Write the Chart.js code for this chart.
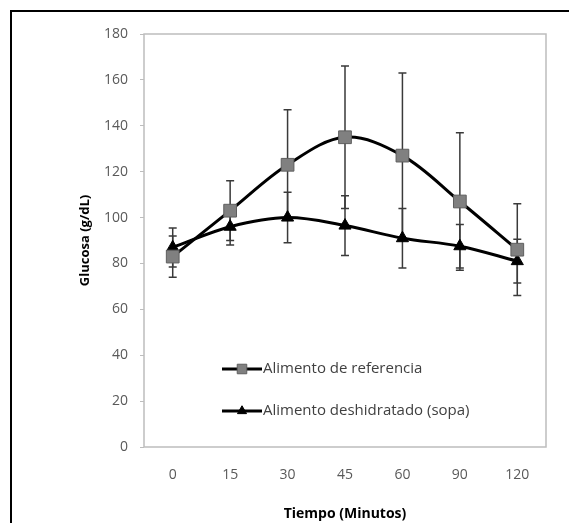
<!DOCTYPE html>
<html>
<head>
<meta charset="utf-8">
<script src="https://cdn.jsdelivr.net/npm/chart.js@4/dist/chart.umd.min.js"></script>
<style>
  html, body { margin: 0; padding: 0; background: #fff; overflow: hidden; }
  #wrap { width: 569px; height: 523px; position: relative; }
</style>
</head>
<body>
<div id="wrap"><canvas id="glucosa" width="569" height="523"></canvas></div>
<script>
// Datos
const tiempos = ['0', '15', '30', '45', '60', '90', '120'];
const referencia = [83, 103, 123, 135, 127, 107, 86];
const referenciaError = [9, 13, 24, 31, 36, 30, 20];
const sopa = [87, 96, 100, 96.5, 91, 87.5, 81];
const sopaError = [8.5, 8, 11, 13, 13, 9.5, 9.5];
const yTicks = [0, 20, 40, 60, 80, 100, 120, 140, 160, 180];

const FONT = '"Open Sans", Lato, sans-serif';

// Marco exterior y borde del area de trazado
const framePlugin = {
  id: 'frame',
  beforeDraw(chart) {
    const ctx = chart.ctx;
    const a = chart.chartArea;
    ctx.save();
    ctx.strokeStyle = '#000';
    ctx.lineWidth = 2;
    ctx.beginPath();
    ctx.moveTo(11, chart.height + 5);
    ctx.lineTo(11, 11);
    ctx.lineTo(chart.width + 5, 11);
    ctx.stroke();
    ctx.strokeStyle = '#bdbdbd';
    ctx.lineWidth = 1.5;
    ctx.strokeRect(a.left, a.top, a.right - a.left, a.bottom - a.top);
    ctx.restore();
  }
};

// Barras de error (se dibujan debajo de las lineas)
const errorBarPlugin = {
  id: 'errorBars',
  beforeDatasetsDraw(chart) {
    const ctx = chart.ctx;
    const y = chart.scales.y;
    ctx.save();
    ctx.strokeStyle = '#3a3a3a';
    ctx.lineWidth = 1.5;
    chart.data.datasets.forEach(function (ds, i) {
      const meta = chart.getDatasetMeta(i);
      meta.data.forEach(function (pt, j) {
        const v = ds.data[j];
        const e = ds.errors[j];
        const top = y.getPixelForValue(v + e);
        const bot = y.getPixelForValue(v - e);
        ctx.beginPath();
        ctx.moveTo(pt.x, top);
        ctx.lineTo(pt.x, bot);
        ctx.moveTo(pt.x - 4, top);
        ctx.lineTo(pt.x + 4, top);
        ctx.moveTo(pt.x - 4, bot);
        ctx.lineTo(pt.x + 4, bot);
        ctx.stroke();
      });
    });
    ctx.restore();
  }
};

// Leyenda dentro del area de trazado
const legendPlugin = {
  id: 'insideLegend',
  afterDatasetsDraw(chart) {
    const ctx = chart.ctx;
    const a = chart.chartArea;
    ctx.save();
    chart.data.datasets.forEach(function (ds, i) {
      const x0 = a.left + 78;
      const yy = a.top + 335 + i * 42;
      ctx.strokeStyle = ds.borderColor;
      ctx.lineWidth = 3;
      ctx.beginPath();
      ctx.moveTo(x0, yy);
      ctx.lineTo(x0 + 40, yy);
      ctx.stroke();
      ctx.fillStyle = ds.pointBackgroundColor;
      ctx.strokeStyle = ds.pointBorderColor;
      ctx.lineWidth = 1;
      ctx.beginPath();
      if (ds.pointStyle === 'rect') {
        const s = ds.pointRadius * 0.75 * Math.SQRT1_2;
        ctx.rect(x0 + 20 - s, yy - s, 2 * s, 2 * s);
      } else {
        const r = ds.pointRadius * 0.75;
        ctx.moveTo(x0 + 20, yy - r);
        ctx.lineTo(x0 + 20 + r * 0.866, yy + r * 0.5);
        ctx.lineTo(x0 + 20 - r * 0.866, yy + r * 0.5);
        ctx.closePath();
      }
      ctx.fill();
      ctx.stroke();
      ctx.fillStyle = '#404040';
      ctx.font = '15px ' + FONT;
      ctx.textBaseline = 'middle';
      ctx.fillText(ds.label, x0 + 41, yy);
    });
    ctx.restore();
  }
};

const ctx = document.getElementById('glucosa').getContext('2d');
new Chart(ctx, {
  type: 'line',
  data: {
    labels: tiempos,
    datasets: [{
      label: 'Alimento de referencia',
      data: referencia,
      errors: referenciaError,
      borderColor: '#000',
      borderWidth: 3,
      tension: 0.35,
      pointStyle: 'rect',
      pointRadius: 9,
      pointBackgroundColor: '#808080',
      pointBorderColor: '#5f5f5f',
      pointBorderWidth: 1
    }, {
      label: 'Alimento deshidratado (sopa)',
      data: sopa,
      errors: sopaError,
      borderColor: '#000',
      borderWidth: 3,
      tension: 0.35,
      pointStyle: 'triangle',
      pointRadius: 7,
      pointBackgroundColor: '#000',
      pointBorderColor: '#000',
      pointBorderWidth: 1
    }]
  },
  options: {
    responsive: false,
    animation: false,
    devicePixelRatio: 1,
    layout: { padding: { top: 34, right: 23, left: 0, bottom: 0 } },
    plugins: {
      legend: { display: false },
      tooltip: { enabled: false }
    },
    scales: {
      x: {
        offset: true,
        grid: { display: false, drawTicks: false },
        border: { display: false },
        ticks: { color: '#595959', font: { family: FONT, size: 14 }, padding: 20, autoSkip: false, maxRotation: 0 },
        title: {
          display: true,
          text: 'Tiempo (Minutos)',
          color: '#000',
          font: { family: FONT, size: 14, weight: 'bold' },
          padding: { top: 0, bottom: 1 }
        },
        afterFit(s) { s.height = 76; }
      },
      y: {
        min: 0,
        max: 180,
        afterBuildTicks(s) { s.ticks = yTicks.map(v => ({ value: v })); },
        grid: { drawOnChartArea: false, tickLength: 4, color: '#bdbdbd' },
        border: { display: false },
        ticks: { color: '#595959', font: { family: FONT, size: 14 }, padding: 12, autoSkip: false },
        title: {
          display: true,
          text: 'Glucosa (g/dL)',
          color: '#000',
          font: { family: FONT, size: 13, weight: 'bold' },
          padding: { top: 77, bottom: 0 }
        },
        afterFit(s) { s.width = 144; }
      }
    }
  },
  plugins: [framePlugin, errorBarPlugin, legendPlugin]
});
</script>
</body>
</html>
